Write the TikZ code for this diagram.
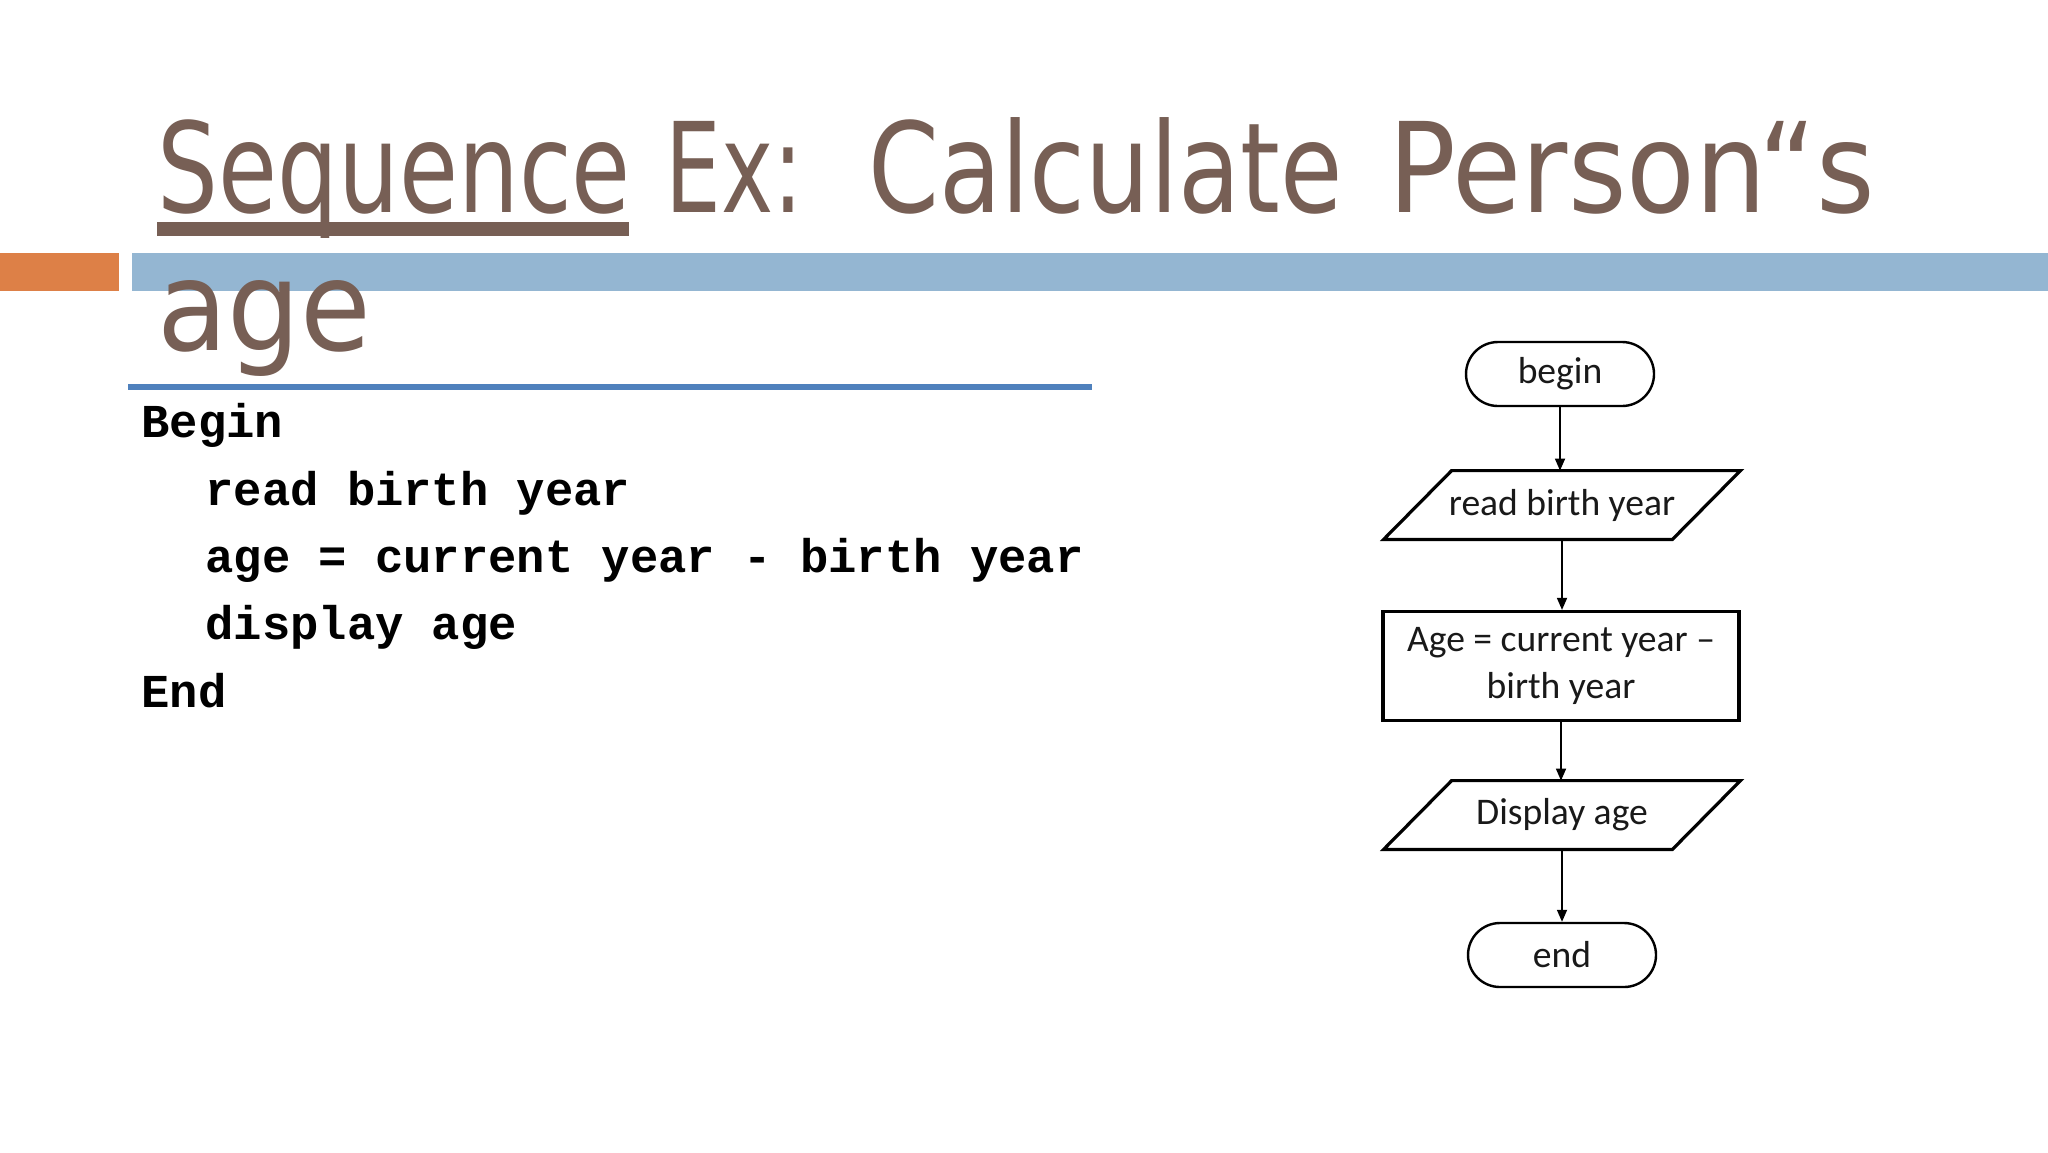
\documentclass[tikz,border=0pt]{standalone}
\usepackage{fontspec}
\setmainfont{Carlito}
\newfontfamily\titlefont{DejaVu Sans}
\newfontfamily\codefont{Liberation Mono}
\usetikzlibrary{arrows.meta}
\definecolor{titlebrown}{HTML}{775F55}
\definecolor{accentorange}{HTML}{DD8047}
\definecolor{barblue}{HTML}{94B6D2}
\definecolor{ruleblue}{HTML}{4F81BD}
\begin{document}
\begin{tikzpicture}[x=0.5pt,y=-0.5pt,
  titletext/.style={anchor=base west, inner sep=0, text=titlebrown, font=\titlefont\fontsize{62.5}{70}\selectfont},
  codeline/.style={anchor=base west, inner sep=0, font=\codefont\bfseries\fontsize{23.6}{28}\selectfont},
  flowtext/.style={font=\fontsize{18.8}{23.5}\selectfont, align=center, inner sep=0pt, text=black!90},
  terminal/.style={flowtext, draw, line width=1.2pt, rounded corners=16pt, minimum width=94pt, minimum height=32pt},
  io/.style={flowtext, minimum width=144pt, minimum height=34pt},
  iobox/.style={line width=1.6pt, line join=miter},
  process/.style={flowtext, draw, line width=1.6pt, minimum width=178pt, minimum height=54.5pt},
  flow/.style={-{Triangle[length=6pt,width=5pt]}, line width=0.8pt}
]
\useasboundingbox[fill=white] (0,0) rectangle (2048,1152);
% header bars
\fill[accentorange] (0,253) rectangle (119,291);
\fill[barblue] (132,253) rectangle (2048,291);
% title
\node[titletext] (title1) at (157,212) {\scalebox{0.768}[1]{Sequence}\hspace{17.5pt}\scalebox{0.706}[1]{Ex:}\hspace{32.5pt}\scalebox{0.812}[1]{Calculate}\hspace{23pt}\scalebox{0.90}[1]{Person“s}};
\fill[titlebrown] (157,222) rectangle (629,236);
\node[titletext] (title2) at (157,350) {\scalebox{0.92}[1]{age}};
\draw[ruleblue, line width=3pt] (128,386.5) -- (1092,386.5);
% pseudocode
\node[codeline] (c1) at (141,437) {Begin};
\node[codeline] (c2) at (205,505) {read birth year};
\node[codeline] (c3) at (205,572) {age = current year - birth year};
\node[codeline] (c4) at (205,639) {display age};
\node[codeline] (c5) at (141,707) {End};
% flowchart
\node[terminal] (begin) at (1560,374) {begin};
\node[io] (read) at (1562,505) {read birth year};
\draw[iobox] ([xshift=17pt]read.north west) -- ([xshift=17pt]read.north east)
  -- ([xshift=-17pt]read.south east) -- ([xshift=-17pt]read.south west) -- cycle;
\node[process] (calc) at (1561,666) {Age = current year --\\birth year};
\node[io] (disp) at (1562,815) {Display age};
\draw[iobox] ([xshift=17pt]disp.north west) -- ([xshift=17pt]disp.north east)
  -- ([xshift=-17pt]disp.south east) -- ([xshift=-17pt]disp.south west) -- cycle;
\node[terminal] (end) at (1562,955) {end};
\draw[flow] (begin.south) -- (begin.south |- read.north);
\draw[flow] (read.south) -- (read.south |- calc.north);
\draw[flow] (calc.south) -- (calc.south |- disp.north);
\draw[flow] (disp.south) -- (disp.south |- end.north);
\end{tikzpicture}
\end{document}
